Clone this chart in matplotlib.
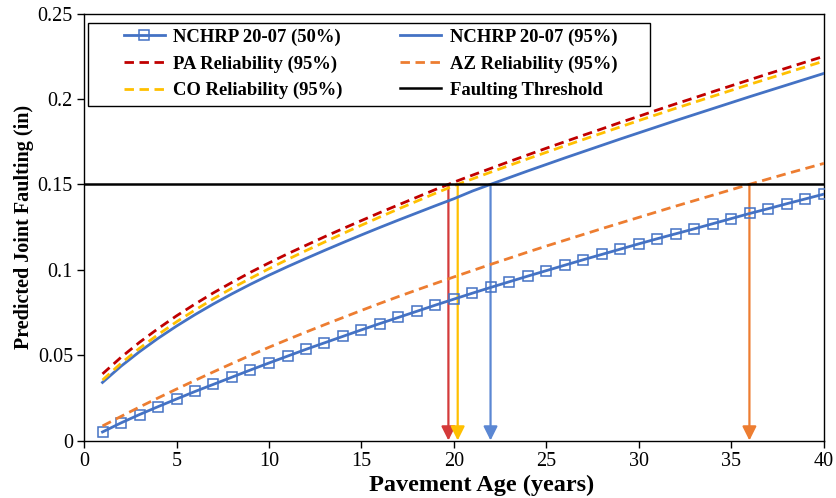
import numpy as np
import matplotlib.pyplot as plt
from matplotlib.patches import Rectangle

# Pavement age (years)
years = list(range(1, 41))

# Predicted joint faulting (in)
nchrp_50 = [0.0050, 0.0103, 0.0152, 0.0198, 0.0243, 0.0287, 0.0329, 0.0371, 0.0413, 0.0454,
            0.0494, 0.0534, 0.0572, 0.0610, 0.0648, 0.0685, 0.0721, 0.0757, 0.0793, 0.0828,
            0.0863, 0.0897, 0.0930, 0.0963, 0.0995, 0.1027, 0.1059, 0.1090, 0.1121, 0.1152,
            0.1182, 0.1211, 0.1240, 0.1270, 0.1300, 0.1330, 0.1358, 0.1387, 0.1415, 0.1443]

nchrp_95 = [0.0340, 0.0435, 0.0520, 0.0598, 0.0670, 0.0737, 0.0800, 0.0859, 0.0915, 0.0968,
            0.1018, 0.1066, 0.1113, 0.1159, 0.1204, 0.1248, 0.1291, 0.1333, 0.1375, 0.1416,
            0.1461, 0.1501, 0.1540, 0.1579, 0.1617, 0.1655, 0.1692, 0.1729, 0.1766, 0.1802,
            0.1838, 0.1874, 0.1909, 0.1944, 0.1979, 0.2014, 0.2048, 0.2082, 0.2116, 0.2150]

pa_95 = [0.0390, 0.0487, 0.0575, 0.0655, 0.0730, 0.0799, 0.0865, 0.0926, 0.0985, 0.1040,
         0.1093, 0.1143, 0.1193, 0.1241, 0.1288, 0.1335, 0.1380, 0.1425, 0.1470, 0.1513,
         0.1554, 0.1594, 0.1634, 0.1673, 0.1712, 0.1750, 0.1788, 0.1825, 0.1863, 0.1899,
         0.1936, 0.1972, 0.2007, 0.2043, 0.2078, 0.2113, 0.2148, 0.2182, 0.2216, 0.2250]

az_95 = [0.0085, 0.0141, 0.0196, 0.0249, 0.0301, 0.0352, 0.0402, 0.0451, 0.0499, 0.0546,
         0.0591, 0.0635, 0.0678, 0.0720, 0.0762, 0.0803, 0.0843, 0.0882, 0.0920, 0.0958,
         0.0995, 0.1032, 0.1068, 0.1104, 0.1139, 0.1173, 0.1207, 0.1241, 0.1274, 0.1307,
         0.1340, 0.1373, 0.1405, 0.1437, 0.1469, 0.1501, 0.1532, 0.1563, 0.1593, 0.1623]

co_95 = [0.0354, 0.0452, 0.0540, 0.0620, 0.0695, 0.0764, 0.0830, 0.0892, 0.0950, 0.1006,
         0.1060, 0.1112, 0.1162, 0.1212, 0.1261, 0.1309, 0.1356, 0.1402, 0.1448, 0.1492,
         0.1532, 0.1572, 0.1611, 0.1650, 0.1688, 0.1726, 0.1763, 0.1800, 0.1837, 0.1874,
         0.1910, 0.1946, 0.1981, 0.2016, 0.2051, 0.2086, 0.2120, 0.2154, 0.2188, 0.2222]

threshold = 0.15
threshold_span = [0, 40]

x_ticks = [0, 5, 10, 15, 20, 25, 30, 35, 40]
y_ticks = [0, 0.05, 0.1, 0.15, 0.2, 0.25]
y_tick_labels = ["0", "0.05", "0.1", "0.15", "0.2", "0.25"]

BLUE = "#4472C4"
RED = "#C00000"
ORANGE = "#ED7D31"
GOLD = "#FFC000"

plt.rcParams["font.family"] = ["Liberation Serif", "DejaVu Serif"]

W, H = 836, 498
fig = plt.figure(figsize=(W / 100, H / 100), dpi=100)
ax = fig.add_axes([84 / W, 1 - 440.5 / H, 740 / W, (440.5 - 13.6) / H])

lw = 2.0
dash = (3.4, 2.0)

l50, = ax.plot(years, nchrp_50, color=BLUE, lw=lw, marker="s", ms=6.5,
               mfc="none", mec=BLUE, mew=1.1, zorder=4,
               label="NCHRP 20-07 (50%)")
l95, = ax.plot(years, nchrp_95, color=BLUE, lw=lw, zorder=4,
               label="NCHRP 20-07 (95%)")
lpa, = ax.plot(years, pa_95, color=RED, lw=lw, dashes=dash, zorder=4,
               label="PA Reliability (95%)")
laz, = ax.plot(years, az_95, color=ORANGE, lw=lw, dashes=dash, zorder=4,
               label="AZ Reliability (95%)")
lco, = ax.plot(years, co_95, color=GOLD, lw=lw, dashes=dash, zorder=4,
               label="CO Reliability (95%)")
lth, = ax.plot(threshold_span, [threshold, threshold], color="black", lw=1.8,
               zorder=5, label="Faulting Threshold")

# Vertical arrows from the threshold crossing of each curve down to the age axis
arrow_series = [(pa_95, "#D43A3A"), (co_95, GOLD), (nchrp_95, "#5B87D3"), (az_95, ORANGE)]
for vals, col in arrow_series:
    x_cross = float(np.interp(threshold, vals, years))
    ax.annotate("", xy=(x_cross, 0), xytext=(x_cross, threshold),
                arrowprops=dict(arrowstyle="-|>,head_length=0.6,head_width=0.3",
                                color=col, lw=1.6, shrinkA=0, shrinkB=0,
                                mutation_scale=14),
                zorder=3)

ax.set_xlim(0, 40)
ax.set_ylim(0, 0.25)
ax.set_xticks(x_ticks)
ax.set_yticks(y_ticks)
ax.set_yticklabels(y_tick_labels)
ax.tick_params(axis="both", direction="out", length=5, width=1, labelsize=14.5,
               colors="black", pad=3)
for sp in ax.spines.values():
    sp.set_color("black")
    sp.set_linewidth(1.0)

ax.set_xlabel("Pavement Age (years)", fontsize=17.5, fontweight="bold", va="baseline")
ax.set_ylabel("Predicted Joint Faulting (in)", fontsize=14.5, fontweight="bold")
ax.xaxis.set_label_coords((482 - 84) / 740, (440.5 - 491.5) / 427)
ax.yaxis.set_label_coords(-0.068, 0.5)

# Legend frame and two-column legend (row-major order)
fig.patches.append(Rectangle((88 / W, 1 - 106 / H), (650 - 88) / W, (106 - 22.7) / H,
                             transform=fig.transFigure, facecolor="white",
                             edgecolor="black", lw=1.0, zorder=10))
handles = [l50, lpa, lco, l95, laz, lth]
leg = fig.legend(handles, [h.get_label() for h in handles], ncol=2, frameon=False,
                 loc="upper left", bbox_to_anchor=(120 / W, 1 - 25 / H),
                 prop=dict(weight="bold", size=13.4), handlelength=2.2,
                 handletextpad=0.45, columnspacing=3.1, labelspacing=0.5,
                 borderpad=0.2, borderaxespad=0)
leg.set_zorder(11)

fig.savefig("out.png", dpi=100)
